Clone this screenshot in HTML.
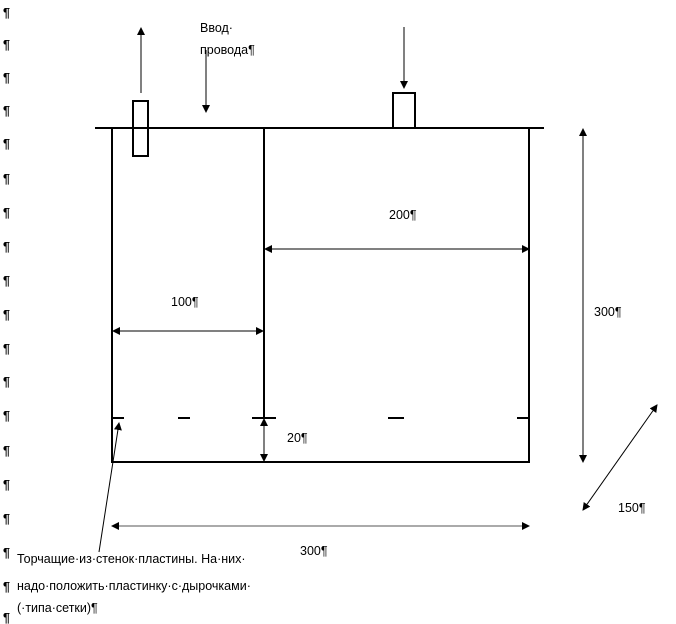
<!DOCTYPE html>
<html><head><meta charset="utf-8"><style>
body{margin:0;width:676px;height:624px;background:#fff;overflow:hidden}
svg{position:absolute;left:0;top:0}
text{font-family:"Liberation Sans",sans-serif;font-size:12.5px;fill:#000}
</style></head><body>
<svg width="676" height="624" viewBox="0 0 676 624">
<defs><marker id="a" markerWidth="8" markerHeight="8" refX="7" refY="4" orient="auto-start-reverse" markerUnits="userSpaceOnUse"><path d="M0,0 L8,4 L0,8 z" fill="#000"/></marker></defs>
<g fill="#000" font-weight="bold">
<text x="3" y="17">¶</text><text x="3" y="49">¶</text><text x="3" y="82">¶</text><text x="3" y="115">¶</text><text x="3" y="148">¶</text><text x="3" y="183">¶</text><text x="3" y="217">¶</text><text x="3" y="251">¶</text><text x="3" y="285">¶</text><text x="3" y="319">¶</text><text x="3" y="353">¶</text><text x="3" y="386">¶</text><text x="3" y="420">¶</text><text x="3" y="455">¶</text><text x="3" y="489">¶</text><text x="3" y="523">¶</text><text x="3" y="557">¶</text><text x="3" y="591">¶</text><text x="3" y="622">¶</text>
</g>
<g stroke="#000" stroke-width="2" fill="none">
<line x1="95" y1="128" x2="544" y2="128"/>
<line x1="112" y1="128" x2="112" y2="462"/>
<line x1="529" y1="128" x2="529" y2="462"/>
<line x1="111" y1="462" x2="530" y2="462"/>
<line x1="264" y1="128" x2="264" y2="418"/>
<rect x="133" y="101" width="15" height="55"/>
<rect x="393" y="93" width="22" height="35"/>
<line x1="112" y1="418" x2="124" y2="418"/>
<line x1="178" y1="418" x2="190" y2="418"/>
<line x1="252" y1="418" x2="276" y2="418"/>
<line x1="388" y1="418" x2="404" y2="418"/>
<line x1="517" y1="418" x2="529" y2="418"/>
</g>
<g stroke="#000" stroke-width="1" fill="none">
<line x1="141" y1="93" x2="141" y2="28" marker-end="url(#a)"/>
<line x1="404" y1="27" x2="404" y2="88" marker-end="url(#a)"/>
<line x1="206" y1="50" x2="206" y2="112" marker-end="url(#a)"/>
<line x1="265" y1="249" x2="529" y2="249" marker-start="url(#a)" marker-end="url(#a)"/>
<line x1="113" y1="331" x2="263" y2="331" marker-start="url(#a)" marker-end="url(#a)"/>
<line x1="264" y1="419" x2="264" y2="461" marker-start="url(#a)" marker-end="url(#a)"/>
<line x1="583" y1="129" x2="583" y2="462" marker-start="url(#a)" marker-end="url(#a)"/>
<line x1="583" y1="510" x2="657" y2="405" marker-start="url(#a)" marker-end="url(#a)"/>
<line x1="112" y1="526" x2="529" y2="526" stroke="#555" marker-start="url(#a)" marker-end="url(#a)"/>
<line x1="99" y1="552" x2="119" y2="423" marker-end="url(#a)"/>
</g>
<text x="200" y="32">Ввод·</text>
<text x="200" y="54">провода¶</text>
<text x="389" y="219">200¶</text>
<text x="171" y="306">100¶</text>
<text x="287" y="442">20¶</text>
<text x="594" y="316">300¶</text>
<text x="618" y="512">150¶</text>
<text x="300" y="555">300¶</text>
<text x="17" y="563">Торчащие·из·стенок·пластины. На·них·</text>
<text x="17" y="590">надо·положить·пластинку·с·дырочками·</text>
<text x="17" y="612">(·типа·сетки)¶</text>
</svg>
</body></html>
